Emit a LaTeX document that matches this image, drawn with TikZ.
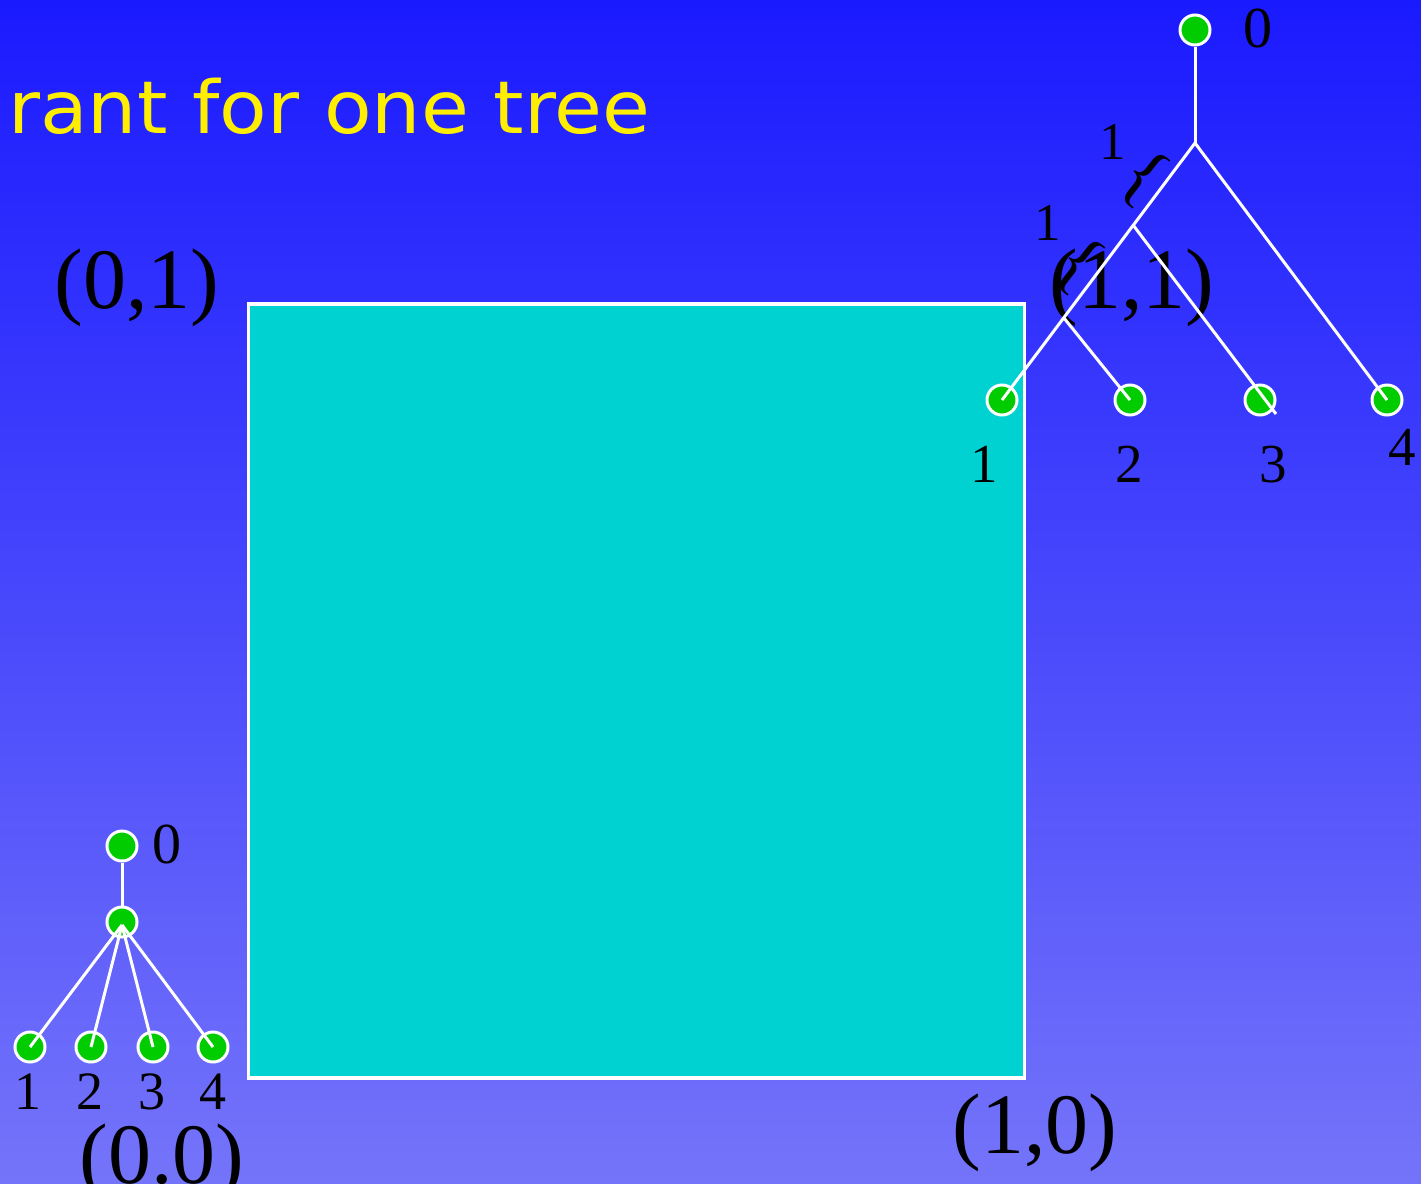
\documentclass[tikz,border=0pt]{standalone}
\usepackage{fontspec}
\setmainfont{Liberation Serif}
\newfontfamily\titlefont{DejaVu Sans}
\usepackage{graphicx}
\usetikzlibrary{calc}
\definecolor{bgtop}{RGB}{26,26,255}
\definecolor{bgbot}{RGB}{116,116,250}
\definecolor{sqcyan}{RGB}{0,210,210}
\definecolor{vgreen}{RGB}{0,204,0}
\definecolor{ttl}{RGB}{255,238,0}
\begin{document}
\begin{tikzpicture}[x=1pt,y=-1pt,
  vtx/.style={circle,fill=vgreen,draw=white,line width=3pt,minimum size=30pt,inner sep=0pt},
  edge/.style={draw=white,line width=3pt},
  corner/.style={font=\fontsize{86}{90}\selectfont,anchor=base,inner sep=0pt},
  lbl/.style={font=\fontsize{55}{60}\selectfont,anchor=base,inner sep=0pt},
  rootlbl/.style={font=\fontsize{58}{60}\selectfont,anchor=base,inner sep=0pt},
  smalllbl/.style={font=\fontsize{54}{58}\selectfont,anchor=base,inner sep=0pt},
  bracelbl/.style={font=\fontsize{53}{56}\selectfont,anchor=base,inner sep=0pt},
  brace/.style={font=\fontsize{74}{76}\selectfont,inner sep=0pt,rotate=-38},
]
\useasboundingbox (0,0) rectangle (1421,1183);
\shade[top color=bgtop,bottom color=bgbot] (0,0) rectangle (1421,1183);

% title
\node[anchor=base west,inner sep=0pt,text=ttl] (title) at (8,133)
  {\resizebox{642pt}{\height}{\titlefont\fontsize{73}{76}\selectfont rant for one tree}};

% square
\draw[draw=white,fill=sqcyan,line width=3.5pt] (248.5,304) rectangle (1024.5,1078);

% corner labels
\node[corner] (c01) at (137,308) {(0,1)};
\node[corner] (c11) at (1132,308) {(1,1)};
\node[corner] (c10) at (1035,1153) {(1,0)};
\node[corner] (c00) at (162,1183) {(0.0)};

% big tree
\node[vtx] (r) at (1195,30) {};
\node[rootlbl] (r0) at (1258,47) {0};
\coordinate (j1) at (1195,143);
\node[vtx] (l1) at (1002,400) {};
\node[vtx] (l2) at (1130,400) {};
\node[vtx] (l3) at (1260,400) {};
\node[vtx] (l4) at (1387,400) {};
\coordinate (j2) at ($(j1)!0.32!(l1.center)$);
\coordinate (j3) at ($(j1)!0.68!(l1.center)$);
\coordinate (e3) at (1276,414);
\node[lbl] (t1) at (984,482) {1};
\node[lbl] (t2) at (1129,482) {2};
\node[lbl] (t3) at (1273,482) {3};
\node[lbl] (t4) at (1402,465) {4};
\node[bracelbl] (b1l) at (1113,159) {1};
\node[bracelbl] (b2l) at (1048,240) {1};
\node[brace] (b1) at (1143,178) {\{};
\node[brace] (b2) at (1078,265) {\{};
\draw[edge] (r) -- (j1);
\draw[edge] (j1) -- (l1.center);
\draw[edge] (j1) -- (l4.center);
\draw[edge] (j2) -- (e3);
\draw[edge] (j3) -- (l2.center);

% small tree
\node[vtx] (s0) at (122,846) {};
\node[rootlbl] (s0l) at (167,863) {0};
\node[vtx] (s1) at (122,922) {};
\node[vtx] (p1) at (30,1047) {};
\node[vtx] (p2) at (91,1047) {};
\node[vtx] (p3) at (153,1047) {};
\node[vtx] (p4) at (213,1047) {};
\node[smalllbl] (q1) at (28,1109) {1};
\node[smalllbl] (q2) at (90,1109) {2};
\node[smalllbl] (q3) at (152,1109) {3};
\node[smalllbl] (q4) at (213,1109) {4};
\draw[edge] (s0) -- (s1);
\foreach \p in {p1,p2,p3,p4}
  \draw[edge] ([yshift=-3pt]s1.center) -- (\p.center);
\end{tikzpicture}
\end{document}
